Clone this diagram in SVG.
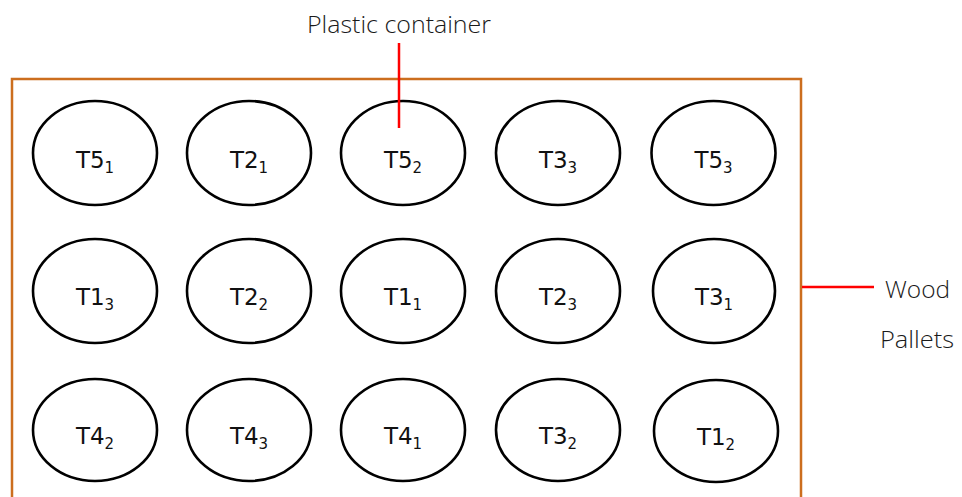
<svg xmlns="http://www.w3.org/2000/svg" width="962" height="497" viewBox="0 0 962 497">
<style>
.pallet{fill:none;stroke:#CC6E1E;stroke-width:2.5}
.pot{fill:#fff;stroke:#000;stroke-width:2.6}
.lbl{font-family:"DejaVu Sans","Liberation Sans",sans-serif;font-size:23px;fill:#111;text-anchor:middle}
.sub{font-size:15px}
.note{font-family:"Open Sans","Liberation Sans",sans-serif;font-size:24px;font-weight:300;fill:#1a1a1a}
.lead{stroke:#FF0000;stroke-width:2.5}
</style>
<rect width="962" height="497" fill="#fff"/>
<g id="pallet">
<path class="pallet" d="M12,500 V79 H801 V500"/>
</g>
<g id="n-r1c1"><ellipse class="pot" cx="95" cy="153" rx="62" ry="52"/><text class="lbl" x="95" y="168">T5<tspan class="sub" dy="5">1</tspan></text></g>
<g id="n-r1c2"><ellipse class="pot" cx="249" cy="153" rx="62" ry="52"/><text class="lbl" x="249" y="168">T2<tspan class="sub" dy="5">1</tspan></text></g>
<g id="n-r1c3"><ellipse class="pot" cx="403" cy="153" rx="62" ry="52"/><text class="lbl" x="403" y="168">T5<tspan class="sub" dy="5">2</tspan></text></g>
<g id="n-r1c4"><ellipse class="pot" cx="558" cy="153" rx="62" ry="52"/><text class="lbl" x="558" y="168">T3<tspan class="sub" dy="5">3</tspan></text></g>
<g id="n-r1c5"><ellipse class="pot" cx="713.5" cy="153" rx="62" ry="52"/><text class="lbl" x="713.5" y="168">T5<tspan class="sub" dy="5">3</tspan></text></g>

<g id="n-r2c1"><ellipse class="pot" cx="95" cy="291" rx="62" ry="52"/><text class="lbl" x="95" y="305">T1<tspan class="sub" dy="5">3</tspan></text></g>
<g id="n-r2c2"><ellipse class="pot" cx="249" cy="291" rx="62" ry="52"/><text class="lbl" x="249" y="305">T2<tspan class="sub" dy="5">2</tspan></text></g>
<g id="n-r2c3"><ellipse class="pot" cx="403" cy="291" rx="62" ry="52"/><text class="lbl" x="403" y="305">T1<tspan class="sub" dy="5">1</tspan></text></g>
<g id="n-r2c4"><ellipse class="pot" cx="558" cy="291" rx="62" ry="52"/><text class="lbl" x="558" y="305">T2<tspan class="sub" dy="5">3</tspan></text></g>
<g id="n-r2c5"><ellipse class="pot" cx="714" cy="291" rx="61" ry="52"/><text class="lbl" x="714" y="305">T3<tspan class="sub" dy="5">1</tspan></text></g>

<g id="n-r3c1"><ellipse class="pot" cx="95" cy="430" rx="62" ry="51"/><text class="lbl" x="95" y="444">T4<tspan class="sub" dy="5">2</tspan></text></g>
<g id="n-r3c2"><ellipse class="pot" cx="249" cy="430" rx="62" ry="51"/><text class="lbl" x="249" y="444">T4<tspan class="sub" dy="5">3</tspan></text></g>
<g id="n-r3c3"><ellipse class="pot" cx="403" cy="430" rx="62" ry="51"/><text class="lbl" x="403" y="444">T4<tspan class="sub" dy="5">1</tspan></text></g>
<g id="n-r3c4"><ellipse class="pot" cx="558" cy="430" rx="62" ry="51"/><text class="lbl" x="558" y="444">T3<tspan class="sub" dy="5">2</tspan></text></g>
<g id="n-r3c5"><ellipse class="pot" cx="716" cy="431" rx="62" ry="51"/><text class="lbl" x="716" y="445">T1<tspan class="sub" dy="5">2</tspan></text></g>

<g id="connectors">
<line class="lead" x1="399" y1="43" x2="399" y2="128"/>
<line class="lead" x1="802" y1="287" x2="874" y2="287"/>
</g>
<g id="labels">
<text class="note" x="307" y="33" textLength="184" lengthAdjust="spacingAndGlyphs">Plastic container</text>
<text class="note" x="885" y="298" textLength="65" lengthAdjust="spacingAndGlyphs">Wood</text>
<text class="note" x="880" y="348" textLength="74" lengthAdjust="spacingAndGlyphs">Pallets</text>
</g>
</svg>
